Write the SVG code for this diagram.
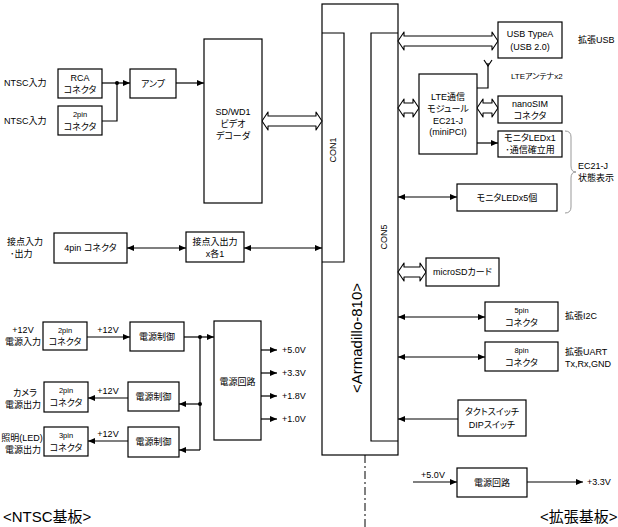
<svg xmlns="http://www.w3.org/2000/svg" width="618" height="527" viewBox="0 0 618 527">
<style>
.b{fill:#fff;stroke:#000;stroke-width:1.2}
.l{fill:none;stroke:#000;stroke-width:1.2}
.h{fill:#fff;stroke:#000;stroke-width:1.1;stroke-linejoin:round}
.a{marker-end:url(#ar)}
.d{marker-start:url(#ar);marker-end:url(#ar)}
text{font-family:"Liberation Sans","Noto Sans CJK JP",sans-serif;font-size:9px;fill:#000;font-feature-settings:"palt"}
.c{text-anchor:middle}
.s{font-size:7.5px}
.big{font-size:15px}
</style>
<defs>
<marker id="ar" viewBox="0 0 7 6" refX="7" refY="3" markerWidth="7" markerHeight="6" markerUnits="userSpaceOnUse" orient="auto-start-reverse">
<path d="M0,0 L7,3 L0,6 z" fill="#000"/>
</marker>
</defs>
<rect width="618" height="527" fill="#fff"/>

<g id="armadillo">
<rect class="b" x="322" y="4" width="76" height="451"/>
<path class="l" d="M322,33 H344 V262 H322 M398,33 H371 V441 H398"/>
<text class="c" transform="translate(336,150) rotate(-90)">CON1</text>
<text class="c" transform="translate(387,237) rotate(-90)">CON5</text>
<text class="c big" transform="translate(362,338) rotate(-90)">&lt;Armadillo-810&gt;</text>
</g>

<g id="connectors">
<path class="h" d="M262,121 L268,112 L268,116 L316,116 L316,112 L322,121 L316,130 L316,126 L268,126 L268,130 Z"/>
<path class="h" d="M398,41 L404,32 L404,36 L492,36 L492,32 L498,41 L492,50 L492,46 L404,46 L404,50 Z"/>
<path class="h" d="M398,108 L404,99 L404,103 L413,103 L413,99 L419,108 L413,117 L413,113 L404,113 L404,117 Z"/>
<path class="h" d="M477,108 L483,99 L483,103 L492,103 L492,99 L498,108 L492,117 L492,113 L483,113 L483,117 Z"/>
<path class="h" d="M398,272 L404,263 L404,267 L420,267 L420,263 L426,272 L420,281 L420,277 L404,277 L404,281 Z"/>

<line class="l a" x1="102" y1="83" x2="130" y2="83"/>
<polyline class="l" points="102,121 117,121 117,83"/>
<circle cx="117" cy="83" r="2"/>
<line class="l a" x1="176" y1="83" x2="204" y2="83"/>

<line class="l a" x1="477" y1="143" x2="498" y2="143"/>
<polyline class="l" points="477,88 488,88 488,63"/>
<polyline class="l" points="484,60 488,66 492,60"/>
<line class="l d" x1="398" y1="197" x2="457" y2="197"/>

<line class="l d" x1="127" y1="248" x2="186" y2="248"/>
<line class="l d" x1="244" y1="248" x2="322" y2="248"/>

<line class="l d" x1="398" y1="317" x2="485" y2="317"/>
<line class="l d" x1="398" y1="357" x2="485" y2="357"/>
<line class="l a" x1="458" y1="419" x2="398" y2="419"/>

<line class="l a" x1="87" y1="337" x2="130" y2="337"/>
<line class="l a" x1="184" y1="337" x2="214" y2="337"/>
<circle cx="200" cy="337" r="2"/>
<line class="l" x1="200" y1="337" x2="200" y2="450"/>
<circle cx="200" cy="404" r="2"/>
<line class="l a" x1="200" y1="404" x2="179" y2="404"/>
<line class="l a" x1="200" y1="450" x2="179" y2="450"/>
<line class="l a" x1="128" y1="398" x2="88" y2="398"/>
<line class="l a" x1="128" y1="441" x2="88" y2="441"/>

<line class="l a" x1="261" y1="350" x2="277" y2="350"/>
<line class="l a" x1="261" y1="373" x2="277" y2="373"/>
<line class="l a" x1="261" y1="396" x2="277" y2="396"/>
<line class="l a" x1="261" y1="419" x2="277" y2="419"/>

<line class="l a" x1="413" y1="482" x2="457" y2="482"/>
<line class="l a" x1="527" y1="482" x2="583" y2="482"/>

<line x1="365" y1="455" x2="365" y2="527" stroke="#000" stroke-width="1" stroke-dasharray="8 3 2 3"/>
<path d="M565,131 Q571,131 571,137 L571,166 Q571,172 576,172 Q571,172 571,178 L571,207 Q571,213 565,213" fill="none" stroke="#999" stroke-width="1"/>
</g>

<g id="labels">
<text x="4" y="86">NTSC入力</text>
<text x="4" y="124">NTSC入力</text>
<text x="7" y="245">接点入力</text>
<text x="10" y="257">･出力</text>
<text class="c" x="23" y="333">+12V</text>
<text class="c" x="23" y="345">電源入力</text>
<text class="c" x="25" y="396">カメラ</text>
<text class="c" x="23" y="408">電源出力</text>
<text class="c" x="22" y="441">照明(LED)</text>
<text class="c" x="23" y="453">電源出力</text>
<text class="c" x="108" y="333">+12V</text>
<text class="c" x="108" y="394">+12V</text>
<text class="c" x="108" y="437">+12V</text>
<text x="282" y="353">+5.0V</text>
<text x="282" y="376">+3.3V</text>
<text x="282" y="399">+1.8V</text>
<text x="282" y="422">+1.0V</text>
<text x="578" y="43">拡張USB</text>
<text x="511" y="79" style="font-size:8px">LTEアンテナx2</text>
<text x="578" y="169">EC21-J</text>
<text x="578" y="181">状態表示</text>
<text x="565" y="319">拡張I2C</text>
<text x="565" y="355">拡張UART</text>
<text x="565" y="367">Tx,Rx,GND</text>
<text class="c" x="433" y="478">+5.0V</text>
<text x="587" y="485">+3.3V</text>
<text x="3" y="522" class="big">&lt;NTSC基板&gt;</text>
<text x="540" y="522" class="big">&lt;拡張基板&gt;</text>
</g>

<g id="rca"><rect class="b" x="58" y="69" width="44" height="29"/><text class="c" x="80" y="81">RCA</text><text class="c" x="80" y="93">コネクタ</text></g>
<g id="pin2-ntsc"><rect class="b" x="58" y="106" width="44" height="29"/><text class="c s" x="80" y="117">2pin</text><text class="c" x="80" y="130">コネクタ</text></g>
<g id="amp"><rect class="b" x="130" y="69" width="46" height="29"/><text class="c" x="153" y="87">アンプ</text></g>
<g id="decoder"><rect class="b" x="204" y="39" width="58" height="164"/><text class="c" x="233" y="115">SD/WD1</text><text class="c" x="233" y="127">ビデオ</text><text class="c" x="233" y="139">デコーダ</text></g>
<g id="pin4"><rect class="b" x="54" y="233" width="73" height="30"/><text class="c" x="90.5" y="251">4pin コネクタ</text></g>
<g id="contact"><rect class="b" x="186" y="232" width="58" height="30"/><text class="c" x="215" y="245">接点入出力</text><text class="c" x="215" y="257">x各1</text></g>
<g id="pin2-pwr"><rect class="b" x="43" y="322" width="44" height="28"/><text class="c s" x="65" y="333">2pin</text><text class="c" x="65" y="345">コネクタ</text></g>
<g id="pwrctl1"><rect class="b" x="130" y="322" width="54" height="29"/><text class="c" x="157" y="340">電源制御</text></g>
<g id="pwrcirc1"><rect class="b" x="214" y="321" width="47" height="119"/><text class="c" x="237.5" y="385">電源回路</text></g>
<g id="pin2-cam"><rect class="b" x="44" y="382" width="44" height="30"/><text class="c s" x="66" y="393">2pin</text><text class="c" x="66" y="406">コネクタ</text></g>
<g id="pwrctl2"><rect class="b" x="128" y="382" width="51" height="29"/><text class="c" x="153.5" y="400">電源制御</text></g>
<g id="pin3"><rect class="b" x="44" y="427" width="44" height="29"/><text class="c s" x="66" y="438">3pin</text><text class="c" x="66" y="451">コネクタ</text></g>
<g id="pwrctl3"><rect class="b" x="128" y="427" width="51" height="30"/><text class="c" x="153.5" y="445">電源制御</text></g>

<g id="usb"><rect class="b" x="498" y="22" width="64" height="36"/><text class="c" x="530" y="37">USB TypeA</text><text class="c" x="530" y="50">(USB 2.0)</text></g>
<g id="lte"><rect class="b" x="419" y="74" width="58" height="80"/><text class="c" x="448" y="100">LTE通信</text><text class="c" x="448" y="112">モジュール</text><text class="c" x="448" y="124">EC21-J</text><text class="c" x="448" y="135">(miniPCI)</text></g>
<g id="nanosim"><rect class="b" x="498" y="96" width="64" height="27"/><text class="c" x="530" y="107">nanoSIM</text><text class="c" x="530" y="119">コネクタ</text></g>
<g id="led1"><rect class="b" x="498" y="131" width="64" height="26"/><text class="c" x="530" y="141">モニタLEDx1</text><text class="c" x="530" y="153">･通信確立用</text></g>
<g id="led5"><rect class="b" x="457" y="184" width="100" height="27"/><text class="c" x="507" y="201">モニタLEDx5個</text></g>
<g id="microsd"><rect class="b" x="426" y="258" width="73" height="28"/><text class="c" x="462.5" y="275">microSDカード</text></g>
<g id="pin5"><rect class="b" x="485" y="302" width="73" height="29"/><text class="c s" x="521.5" y="313">5pin</text><text class="c" x="521.5" y="326">コネクタ</text></g>
<g id="pin8"><rect class="b" x="485" y="342" width="73" height="29"/><text class="c s" x="521.5" y="353">8pin</text><text class="c" x="521.5" y="366">コネクタ</text></g>
<g id="switch"><rect class="b" x="458" y="400" width="68" height="36"/><text class="c" x="492" y="415">タクトスイッチ</text><text class="c" x="492" y="428">DIPスイッチ</text></g>
<g id="pwrcirc2"><rect class="b" x="457" y="468" width="70" height="29"/><text class="c" x="492" y="486">電源回路</text></g>
</svg>
